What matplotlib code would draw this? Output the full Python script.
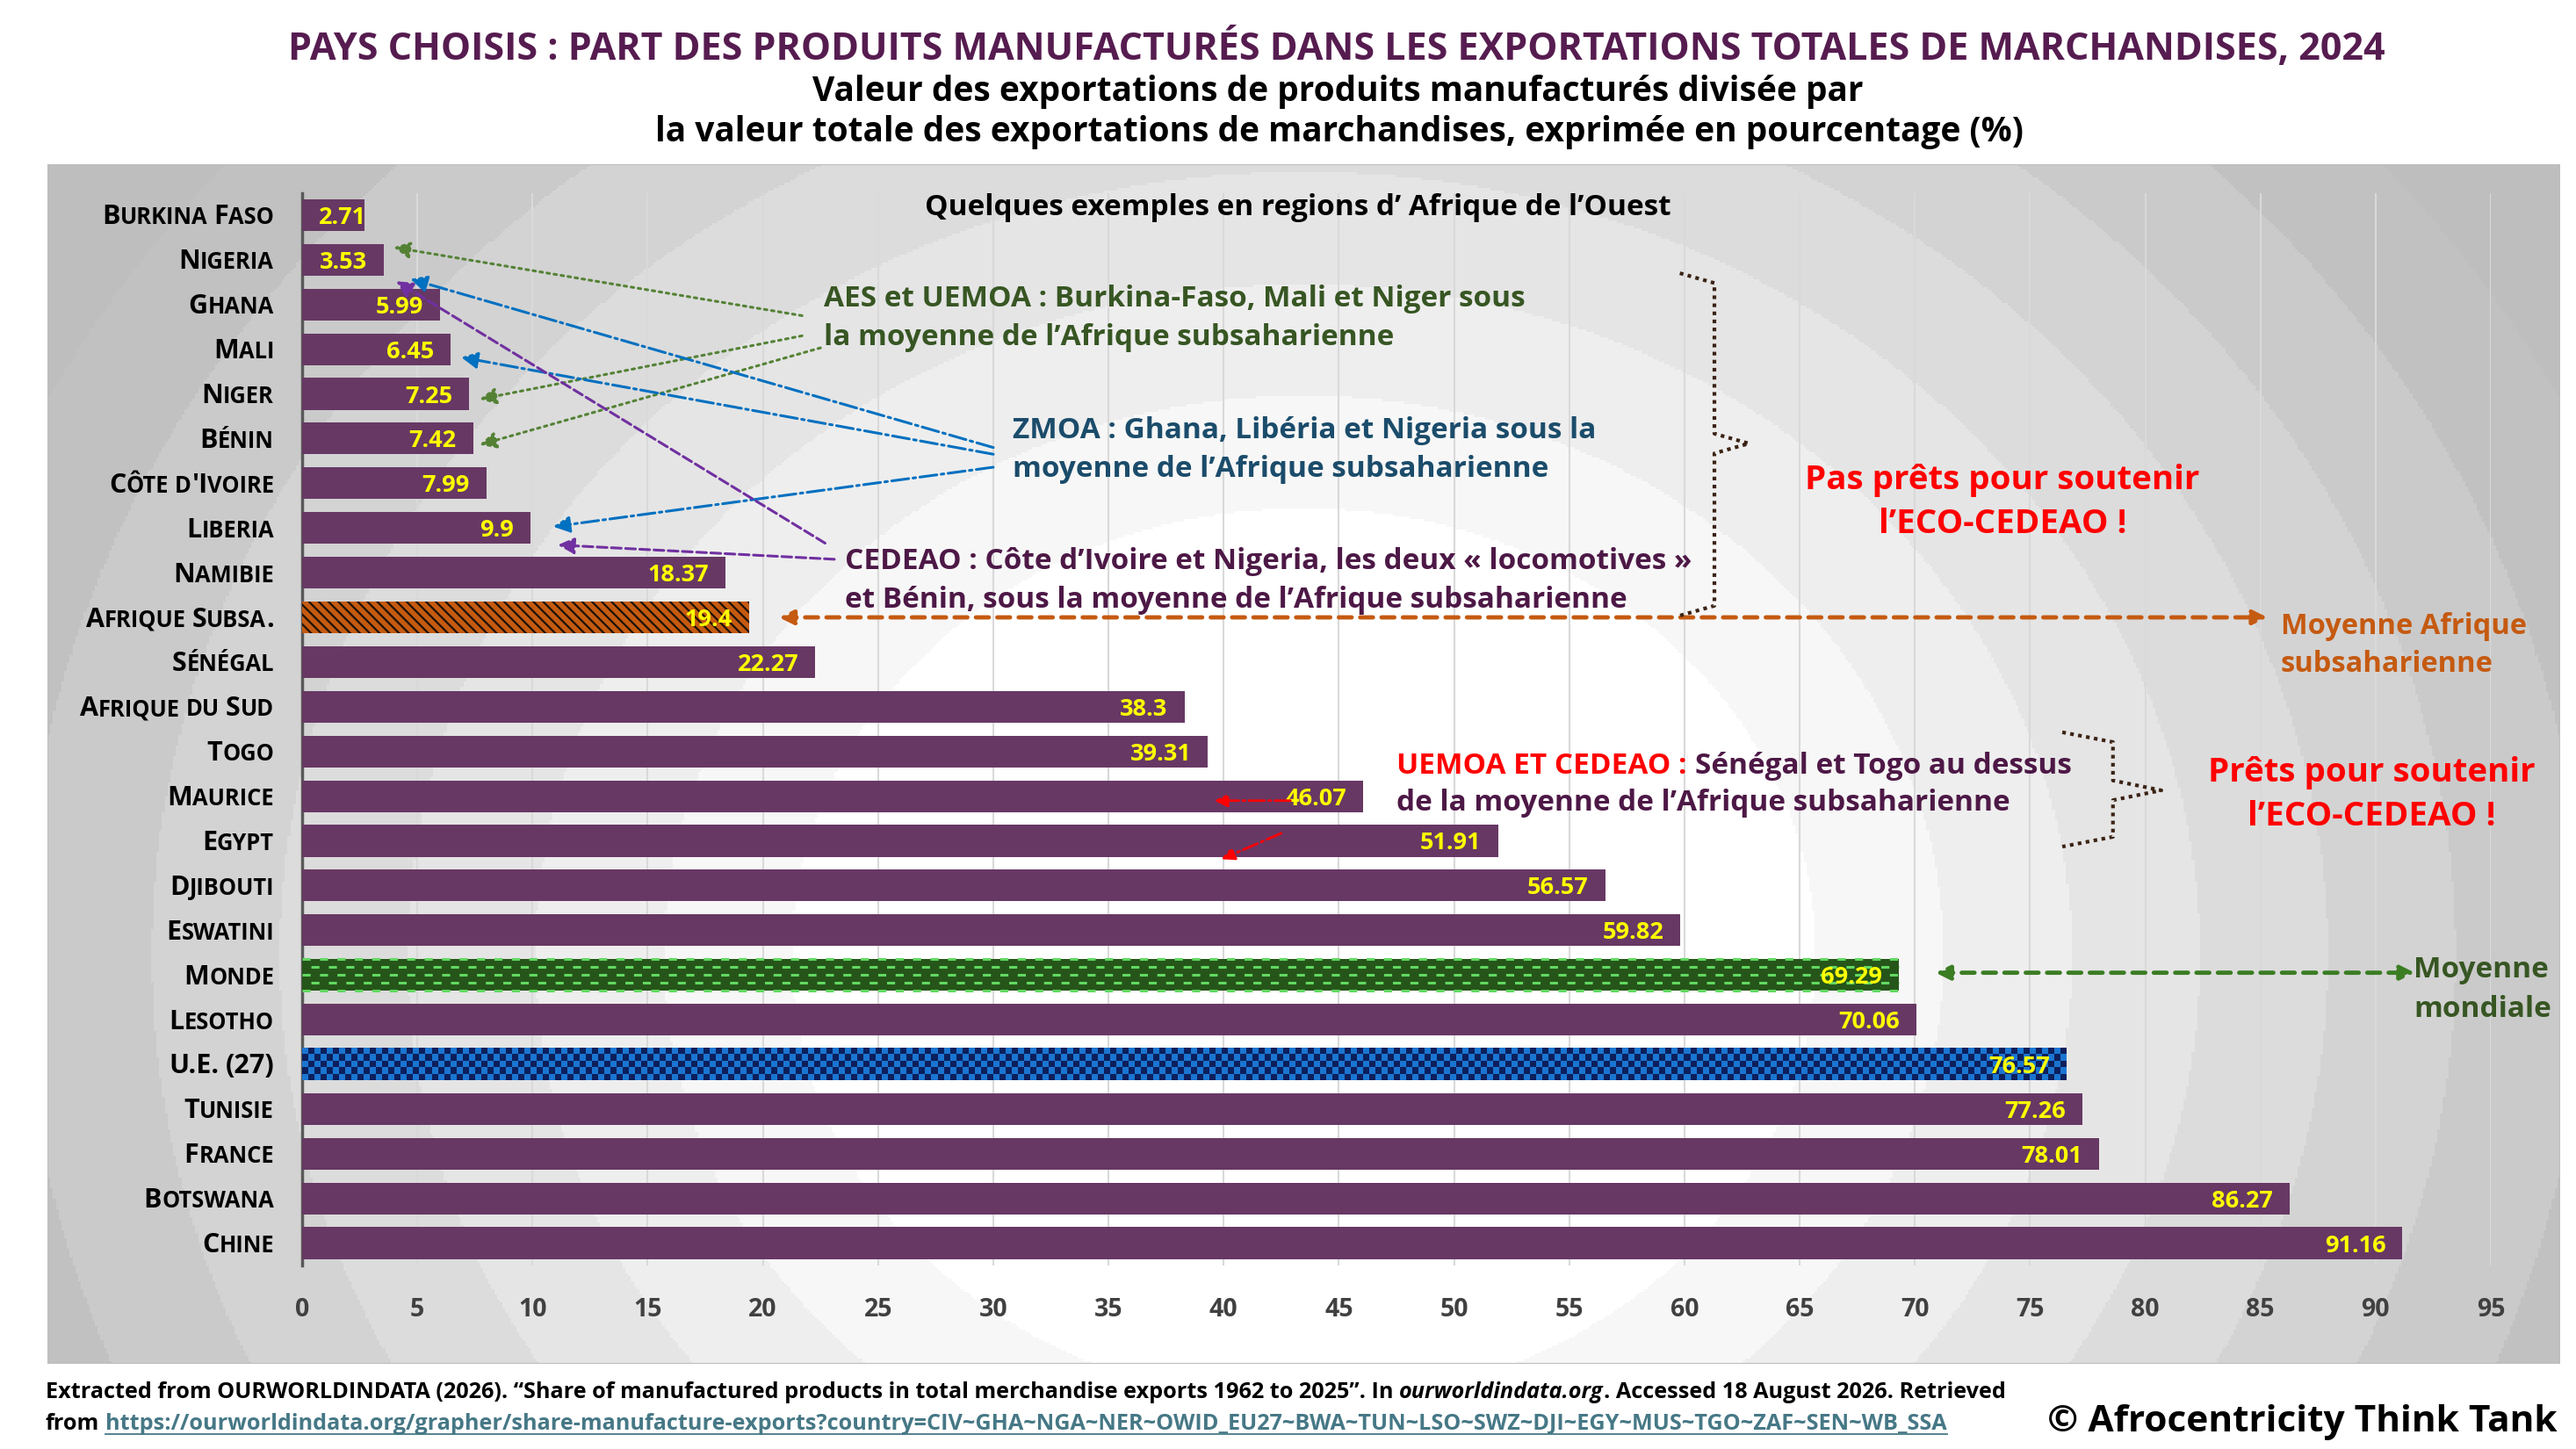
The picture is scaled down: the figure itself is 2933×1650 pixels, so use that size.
import numpy as np
import matplotlib
matplotlib.use('Agg')
import matplotlib.pyplot as plt
from matplotlib import transforms
from matplotlib.colors import ListedColormap
from matplotlib.lines import Line2D
from matplotlib.patches import Rectangle

plt.rcParams['font.family'] = ['Open Sans', 'DejaVu Sans']
plt.rcParams['font.weight'] = 'bold'
plt.rcParams['hatch.linewidth'] = 1.6

# ---- data (share of manufactured goods in merchandise exports, 2024, %)
countries = ['Burkina Faso', 'Nigeria', 'Ghana', 'Mali', 'Niger', 'Bénin',
             "Côte d'Ivoire", 'Liberia', 'Namibie', 'Afrique Subsa.', 'Sénégal',
             'Afrique du Sud', 'Togo', 'Maurice', 'Egypt', 'Djibouti', 'Eswatini',
             'Monde', 'Lesotho', 'U.E. (27)', 'Tunisie', 'France', 'Botswana', 'Chine']
shares = [2.71, 3.53, 5.99, 6.45, 7.25, 7.42, 7.99, 9.9, 18.37, 19.4, 22.27,
          38.3, 39.31, 46.07, 51.91, 56.57, 59.82, 69.29, 70.06, 76.57, 77.26,
          78.01, 86.27, 91.16]
x_ticks = list(range(0, 100, 5))

W, H, DPI = 2933, 1650, 100
fig = plt.figure(figsize=(W / DPI, H / DPI), dpi=DPI)
fig.patch.set_facecolor('white')
renderer = fig.canvas.get_renderer()


def fx(px):
    return px / W


def fy(py):
    return 1 - py / H


def ftext(x, y, s, **kw):
    return fig.text(fx(x), fy(y), s, va='baseline', **kw)


def chain_left(x, y, pieces):
    # left to right pieces of text on one baseline
    for txt, props in pieces:
        size = props.get('fontsize', 12)
        sp = 0.27 * size * DPI / 72
        x += (len(txt) - len(txt.lstrip(' '))) * sp
        t = ftext(x, y, txt.strip(' '), ha='left', **props)
        bb = t.get_window_extent(renderer)
        x = bb.x1 + (len(txt) - len(txt.rstrip(' '))) * sp
        yield t, bb


# ---- panel background with soft rings
bg = fig.add_axes([fx(54), fy(1553), fx(2915) - fx(54), fy(187) - fy(1553)])
gx, gy = np.meshgrid(np.linspace(0, 1, 900), np.linspace(0, 1, 450))
r = np.hypot((gx - 0.5) / 0.6, (gy - 0.66) / 1.1)
band = np.floor(r / 0.085)
shade = np.clip(1.0 - 0.035 * np.maximum(band - 3, 0), 0.745, 1.0)
bg.imshow(shade, cmap='gray', vmin=0, vmax=1, aspect='auto',
          extent=(0, 1, 0, 1), interpolation='nearest')
bg.set_axis_off()
bg.add_patch(Rectangle((0, 0), 1, 1, transform=bg.transAxes, fill=False,
                       edgecolor='#bdbdbd', lw=1.5))

# ---- main axes
ax = fig.add_axes([fx(344), fy(1441), fx(2836) - fx(344), fy(219.5) - fy(1441)])
ax.set_facecolor('none')
ypos = np.arange(len(countries))
bar_h = 0.71
bars = ax.barh(ypos, shares, height=bar_h, color='#673864', linewidth=0, zorder=3)

i_ssa = countries.index('Afrique Subsa.')
bars[i_ssa].set_facecolor('#c55a11')
bars[i_ssa].set_edgecolor('#1e1208')
bars[i_ssa].set_hatch('\\\\\\')
bars[i_ssa].set_linewidth(0)

i_w = countries.index('Monde')
bars[i_w].set_facecolor('#26551a')
for k, dy in enumerate(np.linspace(-bar_h / 2, bar_h / 2, 5)):
    ax.hlines(ypos[i_w] + dy, 0, shares[i_w], colors='#62d862', lw=2.2,
              linestyles=[(3.2 * (k % 2), (3, 3.5))], zorder=4)

i_eu = countries.index('U.E. (27)')
bars[i_eu].set_facecolor('#1a75d1')
ncol = int(shares[i_eu] * 26.23 / 7)
checker = np.add.outer(np.arange(5), np.arange(ncol)) % 2
ax.imshow(checker, cmap=ListedColormap(['#1a75d1', '#0c1f5c']),
          extent=(0, shares[i_eu], ypos[i_eu] + bar_h / 2, ypos[i_eu] - bar_h / 2),
          aspect='auto', interpolation='nearest', zorder=3.5)

ax.set_xlim(0, 95)
ax.set_ylim(len(countries) - 0.5, -0.5)
ax.set_xticks(x_ticks)
ax.set_yticks([])
ax.tick_params(axis='x', length=0, pad=26, labelsize=20.5, labelcolor='#404040')
ax.grid(axis='x', color='#d9d9d9', lw=1.5)
ax.set_axisbelow(True)
for s in ['top', 'right', 'bottom']:
    ax.spines[s].set_visible(False)
ax.spines['left'].set_color('#595959')
ax.spines['left'].set_linewidth(2.5)

# value labels
for i, v in enumerate(shares):
    if v < 3:
        tr = transforms.offset_copy(ax.transData, fig=fig, x=19, y=-10, units='dots')
        ax.text(0, i, f'{v:g}', transform=tr, ha='left', va='baseline',
                color='#ffff00', fontsize=19.5, zorder=5)
    else:
        tr = transforms.offset_copy(ax.transData, fig=fig, x=-19, y=-10, units='dots')
        ax.text(v, i, f'{v:g}', transform=tr, ha='right', va='baseline',
                color='#ffff00', fontsize=19.5, zorder=5)


# category labels in small caps
def smallcaps(name):
    words = []
    for w in name.split(' '):
        runs = []
        for ch in w:
            big = not ch.islower()
            if runs and runs[-1][1] == big:
                runs[-1][0] += ch.upper()
            else:
                runs.append([ch.upper(), big])
        words.append(runs)
    return words


BIG, SMALL = 22, 18.4
for i, name in enumerate(countries):
    x_off = -32
    for w_i, runs in enumerate(reversed(smallcaps(name))):
        if w_i > 0:
            x_off -= 0.27 * SMALL * DPI / 72
        for txt, big in reversed(runs):
            tr = transforms.offset_copy(ax.get_yaxis_transform(), fig=fig,
                                        x=x_off, y=-10.5, units='dots')
            t = ax.text(0, i, txt, transform=tr, ha='right', va='baseline',
                        fontsize=BIG if big else SMALL, color='black', clip_on=False)
            x_off -= t.get_window_extent(renderer).width


# ---- arrows and braces (data coords)
def arrow(x0, y0, x1, y1, color, ls, lw=2.2, style='-|>', ms=28):
    ax.annotate('', xy=(x1, y1), xytext=(x0, y0),
                arrowprops=dict(arrowstyle=style, color=color, lw=lw, linestyle=ls,
                                mutation_scale=ms, shrinkA=0, shrinkB=0),
                annotation_clip=False, zorder=6)


arrow(21.7, 2.25, 3.96, 0.72, '#548235', ':')
arrow(21.7, 2.7, 7.7, 4.12, '#548235', ':')
arrow(22.5, 2.97, 7.7, 5.14, '#548235', ':')
arrow(30.0, 5.2, 4.7, 1.43, '#0070c0', '-.')
arrow(30.0, 5.35, 6.9, 3.18, '#0070c0', '-.')
arrow(30.0, 5.64, 10.9, 6.97, '#0070c0', '-.')
arrow(22.7, 7.34, 4.08, 1.48, '#7030a0', '--')
arrow(23.1, 7.7, 11.1, 7.38, '#7030a0', '--')
arrow(42.9, 13.1, 39.6, 13.1, '#ff0000', '-.', lw=2, ms=22)
arrow(42.5, 13.83, 39.9, 14.41, '#ff0000', '-.', lw=2, ms=22)
arrow(20.7, i_ssa, 85.3, i_ssa, '#c55a11', (0, (3, 2)), lw=3.5, style='<|-|>', ms=24)
arrow(70.9, i_w - 0.05, 91.7, i_w - 0.05, '#3b7d23', (0, (3, 2)), lw=3.5, style='<|-|>', ms=24)


def brace(xl, xv, xm, ytop, ymid, ybot):
    d = 0.22
    xs = [xl, xv, xv, xm, xv, xv, xl]
    ys = [ytop, ytop + d, ymid - d, ymid, ymid + d, ybot - d, ybot]
    ax.plot(xs, ys, color='#3b2314', lw=3, ls=(0, (1, 1.2)), clip_on=False, zorder=6)


brace(59.8, 61.3, 62.8, 1.30, 5.11, 8.96)
brace(76.4, 78.6, 80.7, 11.57, 12.87, 14.13)

# ---- titles
ftext(1522, 68, 'PAYS CHOISIS : PART DES PRODUITS MANUFACTURÉS DANS LES EXPORTATIONS '
      'TOTALES DE MARCHANDISES, 2024', ha='center', fontsize=31, color='#561c50')
ftext(1523, 115, 'Valeur des exportations de produits manufacturés divisée par',
      ha='center', fontsize=28, color='black')
ftext(1525, 161, 'la valeur totale des exportations de marchandises, exprimée en pourcentage (%)',
      ha='center', fontsize=28, color='black')

# ---- annotations
NOTE = 24
ftext(1478, 245, 'Quelques exemples en regions d’ Afrique de l’Ouest',
      ha='center', fontsize=24, color='black')
ftext(938, 349, 'AES et UEMOA : Burkina-Faso, Mali et Niger sous', fontsize=NOTE, color='#375623')
ftext(938, 393, 'la moyenne de l’Afrique subsaharienne', fontsize=NOTE, color='#375623')
ftext(1153, 499, 'ZMOA : Ghana, Libéria et Nigeria sous la', fontsize=NOTE, color='#1b4c6b')
ftext(1153, 543, 'moyenne de l’Afrique subsaharienne', fontsize=NOTE, color='#1b4c6b')
ftext(962, 648, 'CEDEAO : Côte d’Ivoire et Nigeria, les deux « locomotives »',
      fontsize=NOTE, color='#4d1846')
ftext(962, 692, 'et Bénin, sous la moyenne de l’Afrique subsaharienne',
      fontsize=NOTE, color='#4d1846')
list(chain_left(1590, 881, [('UEMOA ET CEDEAO :', dict(fontsize=NOTE, color='#ff0000')),
                            (' Sénégal et Togo au dessus', dict(fontsize=NOTE, color='#4d1846'))]))
ftext(1590, 923, 'de la moyenne de l’Afrique subsaharienne', fontsize=NOTE, color='#4d1846')

ftext(2280, 557, 'Pas prêts pour soutenir', ha='center', fontsize=27.7, color='#ff0000')
ftext(2280, 607, 'l’ECO-CEDEAO !', ha='center', fontsize=27.7, color='#ff0000')
ftext(2700, 890, 'Prêts pour soutenir', ha='center', fontsize=27.7, color='#ff0000')
ftext(2700, 940, 'l’ECO-CEDEAO !', ha='center', fontsize=27.7, color='#ff0000')
ftext(2597, 722, 'Moyenne Afrique', fontsize=23.5, color='#c55a11')
ftext(2597, 765, 'subsaharienne', fontsize=23.5, color='#c55a11')
ftext(2748, 1113, 'Moyenne', fontsize=24, color='#375623')
ftext(2748, 1158, 'mondiale', fontsize=24, color='#375623')

# ---- footer
FOOT = 18.2
list(chain_left(52, 1592, [
    ('Extracted from OURWORLDINDATA (2026). “Share of manufactured products in total '
     'merchandise exports 1962 to 2025”. In ', dict(fontsize=FOOT, color='black')),
    ('ourworldindata.org', dict(fontsize=FOOT, color='black', fontstyle='italic')),
    ('. Accessed 18 August 2026. Retrieved', dict(fontsize=FOOT, color='black'))]))
url = ('https://ourworldindata.org/grapher/share-manufacture-exports?country='
       'CIV~GHA~NGA~NER~OWID_EU27~BWA~TUN~LSO~SWZ~DJI~EGY~MUS~TGO~ZAF~SEN~WB_SSA')
for t, bb in chain_left(52, 1628, [('from ', dict(fontsize=FOOT, color='black')),
                                   (url, dict(fontsize=FOOT, color='#467886'))]):
    if t.get_text() == url:
        fig.add_artist(Line2D([fx(bb.x0), fx(bb.x1)], [fy(1633), fy(1633)],
                              transform=fig.transFigure, color='#467886', lw=1.3))
ftext(2912, 1630, '© Afrocentricity Think Tank', ha='right', fontsize=30.5, color='black')

fig.savefig('out.png', dpi=DPI)
